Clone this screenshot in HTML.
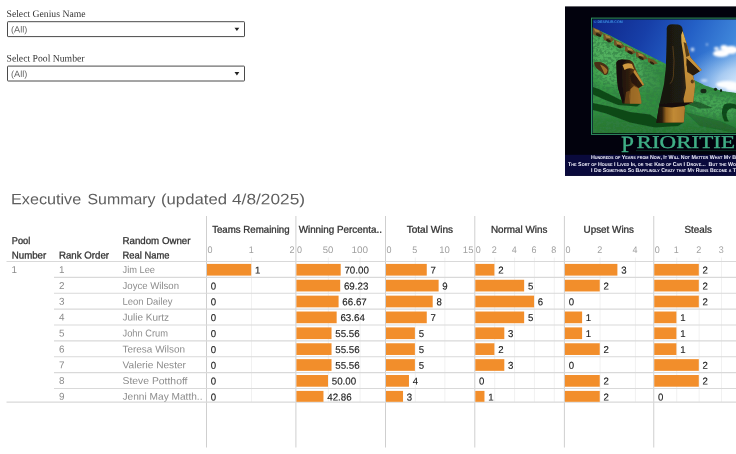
<!DOCTYPE html>
<html><head><meta charset="utf-8"><title>Executive Summary</title>
<style>
html,body{margin:0;padding:0;background:#fff;}
body{width:736px;height:454px;overflow:hidden;position:relative;font-family:"Liberation Sans",sans-serif;}
.abs{position:absolute;white-space:nowrap;}
svg text{white-space:pre;text-rendering:geometricPrecision;}
</style></head><body>

<svg class="abs" style="left:0;top:0" width="736" height="454" viewBox="0 0 736 454">
<defs>
<linearGradient id="sky" gradientUnits="userSpaceOnUse" x1="596" y1="20" x2="745" y2="92">
<stop offset="0" stop-color="#0f278a"/><stop offset="0.3" stop-color="#173fa8"/><stop offset="0.55" stop-color="#2460c6"/><stop offset="0.8" stop-color="#3f86da"/><stop offset="1" stop-color="#8dbff0"/>
</linearGradient>
<linearGradient id="grass" x1="0" y1="0" x2="0.25" y2="1">
<stop offset="0" stop-color="#4cae5a"/><stop offset="0.45" stop-color="#379846"/><stop offset="1" stop-color="#2a8237"/>
</linearGradient>
<linearGradient id="face" x1="0" y1="0" x2="1" y2="0">
<stop offset="0" stop-color="#121410"/><stop offset="0.55" stop-color="#1f1c12"/><stop offset="0.75" stop-color="#3a2a12"/><stop offset="1" stop-color="#6a481a"/>
</linearGradient>
<linearGradient id="gold" x1="0" y1="0" x2="0" y2="1">
<stop offset="0" stop-color="#e2b453"/><stop offset="0.35" stop-color="#c9943c"/><stop offset="1" stop-color="#b98434"/>
</linearGradient>
<linearGradient id="base" x1="0" y1="0" x2="1" y2="0">
<stop offset="0" stop-color="#17120a"/><stop offset="0.2" stop-color="#2a1c0c"/><stop offset="0.34" stop-color="#94621f"/><stop offset="0.6" stop-color="#c18a36"/><stop offset="1" stop-color="#b07a2e"/>
</linearGradient>
<linearGradient id="sface" x1="0" y1="0" x2="1" y2="0">
<stop offset="0" stop-color="#1a1008"/><stop offset="0.45" stop-color="#2e1c0c"/><stop offset="0.75" stop-color="#6e4418"/><stop offset="1" stop-color="#9a6824"/>
</linearGradient>
<radialGradient id="haze" gradientUnits="userSpaceOnUse" cx="748" cy="86" r="70" gradientTransform="translate(748 86) scale(1 0.62) translate(-748 -86)">
<stop offset="0" stop-color="#eef6ff" stop-opacity="0.95"/><stop offset="0.45" stop-color="#cfe4fa" stop-opacity="0.7"/><stop offset="1" stop-color="#9cc6f0" stop-opacity="0"/>
</radialGradient>
<filter id="b1" x="-10%" y="-10%" width="120%" height="120%"><feGaussianBlur stdDeviation="0.55"/></filter>
<filter id="b2" x="-50%" y="-50%" width="200%" height="200%"><feGaussianBlur stdDeviation="1.1"/></filter>
<filter id="b3" x="-50%" y="-50%" width="200%" height="200%"><feGaussianBlur stdDeviation="3"/></filter>
<filter id="noise" x="0" y="0" width="100%" height="100%">
<feTurbulence type="fractalNoise" baseFrequency="0.3 0.4" numOctaves="3" seed="7"/>
<feColorMatrix type="matrix" values="0 0 0 0 0.03  0 0 0 0 0.2  0 0 0 0 0.06  0 0 0 -5 2.9"/>
<feGaussianBlur stdDeviation="0.3"/>
</filter>
<clipPath id="ph"><rect x="592.75" y="19.5" width="160" height="113.6"/></clipPath>
<clipPath id="hill"><path d="M592,27.2 L610,35.5 L630,46 L652,57 L667,64.5 L694,80 L705,85.5 L722,91 L736,93 L745,93 L745,140 L592,140 Z"/></clipPath>
</defs>
<rect x="565" y="6.4" width="180" height="169.4" fill="#02020d"/>
<rect x="565" y="154.8" width="180" height="21" fill="#0a0a3c"/>
<rect x="591.5" y="18.1" width="160" height="116.3" fill="#03130c" stroke="#2f8f63" stroke-width="1"/>
<g clip-path="url(#ph)">
<rect x="592" y="19" width="150" height="115" fill="url(#sky)"/>
<rect x="592" y="19" width="150" height="115" fill="url(#haze)"/>
<!-- clouds -->
<g filter="url(#b2)" fill="#fff">
<ellipse cx="721" cy="53.5" rx="8" ry="3.6"/>
<ellipse cx="731" cy="50" rx="7" ry="4"/>
<ellipse cx="724" cy="47.5" rx="3.6" ry="2.6"/>
<ellipse cx="716.5" cy="48.5" rx="2.6" ry="1.8" opacity="0.85"/>
<ellipse cx="692.5" cy="49.5" rx="1.8" ry="2" opacity="0.75"/>
<ellipse cx="707" cy="44.5" rx="1.1" ry="0.9" opacity="0.7"/>
<ellipse cx="727" cy="84.5" rx="11" ry="3.4" opacity="0.95"/>
<ellipse cx="734" cy="88.5" rx="8" ry="2.6" opacity="0.9"/>
<ellipse cx="704" cy="80.5" rx="3.4" ry="1.6" opacity="0.55"/>
</g>
<!-- hill -->
<g filter="url(#b1)">
<path d="M592,27.2 L610,35.5 L630,46 L652,57 L667,64.5 L694,80 L705,85.5 L722,91 L736,93 L745,93 L745,140 L592,140 Z" fill="url(#grass)"/>
<g clip-path="url(#hill)">
<g filter="url(#b3)">
<path d="M592,36 L655,68 L662,92 L600,82 Z" fill="#62c06e" opacity="0.5"/>
<path d="M690,92 L736,98 L736,120 L690,112 Z" fill="#58b864" opacity="0.55"/>
<path d="M592,116 L745,128 L745,140 L592,140 Z" fill="#246f2f" opacity="0.6"/>
<path d="M640,60 L668,72 L664,100 L645,95 Z" fill="#2a7a36" opacity="0.45"/>
</g>
<rect x="592" y="19" width="150" height="116" filter="url(#noise)" opacity="0.6"/>
</g>
<!-- rocks along ridge -->
<g filter="url(#b1)">
<g fill="#6e5226">
<path d="M593,27.5 L599,30 L603,33 L601,36.5 L595,35.5 L593,34 Z"/>
<path d="M603,33.5 L610,36 L614,39.5 L611,42.5 L604,40 Z"/>
<path d="M614,39.5 L621,42.5 L625,46.5 L621,48.5 L614,45 Z"/>
<path d="M625,45.5 L632,48.5 L636,52.5 L632,54.5 L625,51 Z"/>
<path d="M636,51.5 L643,54 L648,58.5 L643,60 L636,56.5 Z"/>
<path d="M648,57.5 L654,60 L658,63.5 L653,64.5 L648,62 Z"/>
</g>
<g fill="#a8843c">
<path d="M594,28.5 L599,30.5 L600,32.5 L595,31.5 Z"/>
<path d="M605,34.5 L610,36.5 L611,38.5 L606,37.5 Z"/>
<path d="M616,41 L621,43 L622,45 L617,44 Z"/>
<path d="M627,47 L632,49 L633,51 L628,50 Z"/>
<path d="M638,52.8 L643,54.8 L644,56.8 L639,55.8 Z"/>
</g>
<g fill="#1c140a" opacity="0.8">
<ellipse cx="598.5" cy="35" rx="3" ry="1.5" transform="rotate(27 598.5 35)"/>
<ellipse cx="608.5" cy="40.8" rx="2.6" ry="1.4" transform="rotate(27 608.5 40.8)"/>
<ellipse cx="619" cy="46.5" rx="2.6" ry="1.3" transform="rotate(27 619 46.5)"/>
<ellipse cx="630" cy="52.5" rx="3" ry="1.3" transform="rotate(27 630 52.5)"/>
<ellipse cx="641" cy="58" rx="3" ry="1.3" transform="rotate(27 641 58)"/>
<ellipse cx="652" cy="63" rx="2.6" ry="1.1" transform="rotate(27 652 63)"/>
</g>
</g>
<!-- shadows on grass -->
<g filter="url(#b1)" fill="#114419" opacity="0.92">
<path d="M593,87 L600,89.5 L612,95.5 L622,100.5 L641,103.5 L637,106.5 L618,105 L604,99.5 L593,94.5 Z"/>
<path d="M593,103 L610,106.5 L630,112 L650,114.5 L660,121 L684,122.5 L678,126 L655,127.5 L630,122.5 L606,113.5 L593,110 Z"/>
<path d="M724,104.5 Q731,102 737,105 L737,109.5 Q730,106.5 727.5,111 Q725,116 729,121.5 L724.5,121.5 Q719.5,113 724,104.5 Z"/>
<path d="M686,99 L700,102.5 L713,108 L700,108.5 L686,104 Z" opacity="0.7"/>
<path d="M685,112 L720,121 L736,128 L736,133 L700,126 Z" opacity="0.35"/>
</g>
<!-- distant small figures on ridge -->
<g fill="#132c17">
<ellipse cx="703.5" cy="91" rx="3" ry="2.3"/>
<ellipse cx="715.5" cy="89.3" rx="1.6" ry="1.6"/>
<ellipse cx="721" cy="90.5" rx="1.1" ry="1.5"/>
</g>
<!-- fallen small moai -->
<path d="M594,62.5 Q599,60.5 604,63.5 Q609,66 608.5,71 Q608,75.5 604.5,75 Q602,72 598,69.5 Q594.5,67 594,62.5 Z" fill="#4a2e12"/>
<path d="M600,64.5 Q605,66 607.5,70 Q607,74 604.5,74 Q603,70 600,64.5 Z" fill="#a06e2c"/>
<!-- small moai -->
<path d="M616.3,63 Q616.8,59.5 622,59.4 L629,59.7 Q633.5,61 634.5,66 L637,72 L644,85 L638.5,88.5 L640,94 L641.3,101.5 L641.2,103.8 L622.5,103.6 L620.5,96 L618,88 L616.8,76 Z" fill="url(#sface)"/>
<path d="M616.5,62 Q618,59.4 622,59.5 L627,60 Q622.5,62 622,68 L622.5,86 L624.5,99 L623,103.6 L620.5,96 L618,88 L616.8,76 Z" fill="#170f08" opacity="0.9"/>
<path d="M622.5,65 Q627,62 632,64 L634.2,69.5 Q629,67 624.5,70 Z" fill="#cf9a40"/>
<path d="M633,72.5 L643.6,85 L638.5,88 L631.5,82.5 L630,76 Z" fill="#23150a" opacity="0.9"/>
<path d="M634.8,69.5 L644,84.6 L642.6,85.6 L633.4,72 Z" fill="#c08a36"/>
<path d="M634,86 L638.5,88.5 L640,94 L641.3,101.5 L641.2,103.8 L630,103.7 L629,96 L630.5,89 Z" fill="#a9762c" opacity="0.85"/>
<path d="M626,92 L631,90 L630,103.7 L624.5,103.6 Z" fill="#7a4e1c" opacity="0.7"/>
<!-- big moai -->
<path d="M666.8,28 Q667.3,24.2 672,24.2 L678,24.4 Q681.5,24.9 682.3,28 L683.5,34 L686,41.5 L690.5,57.5 L701.7,70 L693,75.6 L695.2,84.5 L694,95 L693.2,102.5 L684,105.6 L685,108 L683.8,122.5 L656.3,122.7 L659.5,104 L664,84 L665.8,68 L666.5,45 Z" fill="url(#face)"/>
<!-- golden face plane -->
<path d="M682.6,31 L683.6,34 L686,41.5 L690.5,57.5 L701.7,70 L699.5,71.5 L688.5,60.5 L686.8,66 L687.2,72 L693,75.6 L695.2,84.5 L694,95 L693.2,102.5 L684.5,105.4 L683.5,99 L686,88 L685,76 L684.2,66 L683.5,56 L681.4,42 L681.2,35 Z" fill="url(#gold)"/>
<!-- nose side / eye socket shadow -->
<path d="M686.5,58 L699.8,71.2 L693,75.4 L688.4,71 L686.4,65 Z" fill="#2a1c0c"/>
<path d="M683.6,42 L686.5,43.5 L689.5,55.5 L686.2,57 Z" fill="#4a3214" opacity="0.9"/>
<ellipse cx="692.3" cy="81.5" rx="1.6" ry="1.9" fill="#4a3012" opacity="0.85"/>
<!-- ear -->
<path d="M672.8,46 Q675,60 673.4,76 Q672,83 669.8,83.5" fill="none" stroke="#5a4018" stroke-width="1" opacity="0.85"/>
<!-- base -->
<path d="M659.3,105 L684,105.6 L685,108 L683.8,122.5 L656.3,122.7 Z" fill="url(#base)"/>
<path d="M659.5,103.6 L693.2,102.3 L684,105.9 L672,107.6 L659.1,106.6 Z" fill="#12110b"/>
</g>
</g>
<text x="593.8" y="23" font-family="'Liberation Sans',sans-serif" font-size="3.6" font-weight="bold" fill="#3b8fe0" textLength="29" lengthAdjust="spacingAndGlyphs">© DESPAIR.COM</text>
<g font-family="'Liberation Serif',serif" fill="#3fae85" stroke="#3fae85" stroke-width="0.35">
<text x="621" y="151.8" font-size="23.3">P</text>
<text x="636.6" y="148.1" font-size="18" textLength="98.4" lengthAdjust="spacingAndGlyphs">RIORITIE</text>
<text x="737" y="151.8" font-size="23.3">S</text>
</g>
<line x1="636" y1="150.6" x2="736" y2="150.6" stroke="#0f3f2d" stroke-width="0.7"/>
<g font-family="'Liberation Sans',sans-serif" font-weight="bold" font-size="5.6" fill="#f4f4ff" style="font-variant:small-caps">
<text x="591" y="159.1" textLength="145" lengthAdjust="spacingAndGlyphs">Hundreds of Years from Now, It Will Not Matter What My B</text>
<text x="568.1" y="165.6" textLength="168" lengthAdjust="spacingAndGlyphs">The Sort of House I Lived In, or the Kind of Car I Drove...  But the Wo</text>
<text x="591" y="172" textLength="145" lengthAdjust="spacingAndGlyphs">I Did Something So Bafflingly Crazy that My Ruins Become a T</text>
</g>
</svg>

<svg class="abs" style="left:0;top:0" width="736" height="454" viewBox="0 0 736 454" font-family="'Liberation Sans',sans-serif">
<g font-family="'Liberation Serif',serif" font-size="10" fill="#333">
<text x="6.5" y="16.9" transform="rotate(0.03 6.5 16.9)" textLength="79" lengthAdjust="spacingAndGlyphs">Select Genius Name</text>
<text x="6.5" y="61.4" transform="rotate(0.03 6.5 61.4)" textLength="78" lengthAdjust="spacingAndGlyphs">Select Pool Number</text>
</g>
<rect x="7.5" y="21.7" width="237" height="14.9" rx="0.6" fill="#fff" stroke="#4a4a4a" stroke-width="1"/>
<text x="11" y="32.5" transform="rotate(0.03 11 32.5)" font-size="9" fill="#666" textLength="16.25" lengthAdjust="spacingAndGlyphs">(All)</text>
<path d="M234.5,27.7 h4.8 l-2.4,3.3 z" fill="#222"/>
<rect x="7.5" y="66.1" width="237" height="14.9" rx="0.6" fill="#fff" stroke="#4a4a4a" stroke-width="1"/>
<text x="11" y="76.9" transform="rotate(0.03 11 76.9)" font-size="9" fill="#666" textLength="16.25" lengthAdjust="spacingAndGlyphs">(All)</text>
<path d="M234.5,72.1 h4.8 l-2.4,3.3 z" fill="#222"/>
<g font-size="15" fill="#5e5e5e">
<text x="11" y="204.25" transform="rotate(0.03 11 204.25)" textLength="70.25" lengthAdjust="spacingAndGlyphs">Executive</text>
<text x="87.5" y="204.25" transform="rotate(0.03 87.5 204.25)" textLength="68" lengthAdjust="spacingAndGlyphs">Summary</text>
<text x="161" y="204.25" transform="rotate(0.03 161 204.25)" textLength="66" lengthAdjust="spacingAndGlyphs">(updated</text>
<text x="232" y="204.25" transform="rotate(0.03 232 204.25)" textLength="73" lengthAdjust="spacingAndGlyphs">4/8/2025)</text>
</g>
<g stroke="#cfcfcf" stroke-width="1">
<line x1="206.5" y1="216" x2="206.5" y2="447.5"/>
<line x1="295.9" y1="216" x2="295.9" y2="447.5"/>
<line x1="385.5" y1="216" x2="385.5" y2="447.5"/>
<line x1="474.8" y1="216" x2="474.8" y2="447.5"/>
<line x1="564.4" y1="216" x2="564.4" y2="447.5"/>
<line x1="653.75" y1="216" x2="653.75" y2="447.5"/>
</g>
<g stroke="#f1f1f1" stroke-width="1">
<line x1="251.55" y1="257.5" x2="251.55" y2="402.1"/>
<line x1="328.35" y1="257.5" x2="328.35" y2="402.1"/>
<line x1="360.10" y1="257.5" x2="360.10" y2="402.1"/>
<line x1="415.25" y1="257.5" x2="415.25" y2="402.1"/>
<line x1="444.90" y1="257.5" x2="444.90" y2="402.1"/>
<line x1="494.74" y1="257.5" x2="494.74" y2="402.1"/>
<line x1="514.58" y1="257.5" x2="514.58" y2="402.1"/>
<line x1="534.42" y1="257.5" x2="534.42" y2="402.1"/>
<line x1="554.26" y1="257.5" x2="554.26" y2="402.1"/>
<line x1="600.10" y1="257.5" x2="600.10" y2="402.1"/>
<line x1="635.40" y1="257.5" x2="635.40" y2="402.1"/>
<line x1="676.75" y1="257.5" x2="676.75" y2="402.1"/>
<line x1="699.15" y1="257.5" x2="699.15" y2="402.1"/>
<line x1="721.55" y1="257.5" x2="721.55" y2="402.1"/>
</g>
<g stroke="#d9d9d9" stroke-width="1.2">
<line x1="6.5" y1="261.5" x2="736" y2="261.5"/>
<line x1="54" y1="277.38" x2="736" y2="277.38"/>
<line x1="54" y1="293.25" x2="736" y2="293.25"/>
<line x1="54" y1="309.12" x2="736" y2="309.12"/>
<line x1="54" y1="325.00" x2="736" y2="325.00"/>
<line x1="54" y1="340.88" x2="736" y2="340.88"/>
<line x1="54" y1="356.75" x2="736" y2="356.75"/>
<line x1="54" y1="372.62" x2="736" y2="372.62"/>
<line x1="54" y1="388.50" x2="736" y2="388.50"/>
<line x1="6.5" y1="402.1" x2="736" y2="402.1"/>
</g>
<g font-size="9.9" fill="#333" stroke="#333" stroke-width="0.3">
<text x="11.75" y="244" transform="rotate(0.03 11.75 244)" textLength="18.5" lengthAdjust="spacingAndGlyphs">Pool</text>
<text x="11.75" y="258.4" transform="rotate(0.03 11.75 258.4)" textLength="34.5" lengthAdjust="spacingAndGlyphs">Number</text>
<text x="59" y="258.4" transform="rotate(0.03 59 258.4)" textLength="50" lengthAdjust="spacingAndGlyphs">Rank Order</text>
<text x="122.5" y="244" transform="rotate(0.03 122.5 244)" textLength="68" lengthAdjust="spacingAndGlyphs">Random Owner</text>
<text x="122.5" y="258.4" transform="rotate(0.03 122.5 258.4)" textLength="47" lengthAdjust="spacingAndGlyphs">Real Name</text>
<text x="212.15" y="232.75" transform="rotate(0.03 212.15 232.75)" textLength="77.5" lengthAdjust="spacingAndGlyphs">Teams Remaining</text>
<text x="298.67" y="232.75" transform="rotate(0.03 298.67 232.75)" textLength="83.25" lengthAdjust="spacingAndGlyphs">Winning Percenta..</text>
<text x="406.65" y="232.75" transform="rotate(0.03 406.65 232.75)" textLength="46.5" lengthAdjust="spacingAndGlyphs">Total Wins</text>
<text x="490.95" y="232.75" transform="rotate(0.03 490.95 232.75)" textLength="56.5" lengthAdjust="spacingAndGlyphs">Normal Wins</text>
<text x="583.55" y="232.75" transform="rotate(0.03 583.55 232.75)" textLength="50.5" lengthAdjust="spacingAndGlyphs">Upset Wins</text>
<text x="684.40" y="232.75" transform="rotate(0.03 684.40 232.75)" textLength="27.5" lengthAdjust="spacingAndGlyphs">Steals</text>
</g>
<g font-size="9.5" fill="#a0a0a0">
<text x="207.50" y="252.9" transform="rotate(0.03 207.50 252.9)" textLength="5.00" lengthAdjust="spacingAndGlyphs">0</text>
<text x="248.65" y="252.9" transform="rotate(0.03 248.65 252.9)" textLength="5.00" lengthAdjust="spacingAndGlyphs">1</text>
<text x="289.45" y="252.9" transform="rotate(0.03 289.45 252.9)" textLength="5.00" lengthAdjust="spacingAndGlyphs">2</text>
<text x="296.90" y="252.9" transform="rotate(0.03 296.90 252.9)" textLength="5.00" lengthAdjust="spacingAndGlyphs">0</text>
<text x="322.65" y="252.9" transform="rotate(0.03 322.65 252.9)" textLength="10.60" lengthAdjust="spacingAndGlyphs">50</text>
<text x="351.40" y="252.9" transform="rotate(0.03 351.40 252.9)" textLength="16.60" lengthAdjust="spacingAndGlyphs">100</text>
<text x="386.50" y="252.9" transform="rotate(0.03 386.50 252.9)" textLength="5.00" lengthAdjust="spacingAndGlyphs">0</text>
<text x="412.35" y="252.9" transform="rotate(0.03 412.35 252.9)" textLength="5.00" lengthAdjust="spacingAndGlyphs">5</text>
<text x="439.20" y="252.9" transform="rotate(0.03 439.20 252.9)" textLength="10.60" lengthAdjust="spacingAndGlyphs">10</text>
<text x="462.85" y="252.9" transform="rotate(0.03 462.85 252.9)" textLength="10.60" lengthAdjust="spacingAndGlyphs">15</text>
<text x="475.80" y="252.9" transform="rotate(0.03 475.80 252.9)" textLength="5.00" lengthAdjust="spacingAndGlyphs">0</text>
<text x="491.84" y="252.9" transform="rotate(0.03 491.84 252.9)" textLength="5.00" lengthAdjust="spacingAndGlyphs">2</text>
<text x="511.68" y="252.9" transform="rotate(0.03 511.68 252.9)" textLength="5.00" lengthAdjust="spacingAndGlyphs">4</text>
<text x="531.52" y="252.9" transform="rotate(0.03 531.52 252.9)" textLength="5.00" lengthAdjust="spacingAndGlyphs">6</text>
<text x="551.36" y="252.9" transform="rotate(0.03 551.36 252.9)" textLength="5.00" lengthAdjust="spacingAndGlyphs">8</text>
<text x="565.40" y="252.9" transform="rotate(0.03 565.40 252.9)" textLength="5.00" lengthAdjust="spacingAndGlyphs">0</text>
<text x="597.20" y="252.9" transform="rotate(0.03 597.20 252.9)" textLength="5.00" lengthAdjust="spacingAndGlyphs">2</text>
<text x="632.50" y="252.9" transform="rotate(0.03 632.50 252.9)" textLength="5.00" lengthAdjust="spacingAndGlyphs">4</text>
<text x="654.75" y="252.9" transform="rotate(0.03 654.75 252.9)" textLength="5.00" lengthAdjust="spacingAndGlyphs">0</text>
<text x="673.85" y="252.9" transform="rotate(0.03 673.85 252.9)" textLength="5.00" lengthAdjust="spacingAndGlyphs">1</text>
<text x="696.25" y="252.9" transform="rotate(0.03 696.25 252.9)" textLength="5.00" lengthAdjust="spacingAndGlyphs">2</text>
<text x="718.65" y="252.9" transform="rotate(0.03 718.65 252.9)" textLength="5.00" lengthAdjust="spacingAndGlyphs">3</text>
</g>
<g font-size="9.9" fill="#8c8c8c">
<text x="11.5" y="273.00" transform="rotate(0.03 11.5 273.00)">1</text>
<text x="59" y="273.00" transform="rotate(0.03 59 273.00)">1</text>
<text x="122.5" y="273.00" transform="rotate(0.03 122.5 273.00)" textLength="32.5" lengthAdjust="spacingAndGlyphs">Jim Lee</text>
<text x="59" y="288.88" transform="rotate(0.03 59 288.88)">2</text>
<text x="122.5" y="288.88" transform="rotate(0.03 122.5 288.88)" textLength="56.5" lengthAdjust="spacingAndGlyphs">Joyce Wilson</text>
<text x="59" y="304.75" transform="rotate(0.03 59 304.75)">3</text>
<text x="122.5" y="304.75" transform="rotate(0.03 122.5 304.75)" textLength="50" lengthAdjust="spacingAndGlyphs">Leon Dailey</text>
<text x="59" y="320.62" transform="rotate(0.03 59 320.62)">4</text>
<text x="122.5" y="320.62" transform="rotate(0.03 122.5 320.62)" textLength="46.5" lengthAdjust="spacingAndGlyphs">Julie Kurtz</text>
<text x="59" y="336.50" transform="rotate(0.03 59 336.50)">5</text>
<text x="122.5" y="336.50" transform="rotate(0.03 122.5 336.50)" textLength="45.5" lengthAdjust="spacingAndGlyphs">John Crum</text>
<text x="59" y="352.38" transform="rotate(0.03 59 352.38)">6</text>
<text x="122.5" y="352.38" transform="rotate(0.03 122.5 352.38)" textLength="62.5" lengthAdjust="spacingAndGlyphs">Teresa Wilson</text>
<text x="59" y="368.25" transform="rotate(0.03 59 368.25)">7</text>
<text x="122.5" y="368.25" transform="rotate(0.03 122.5 368.25)" textLength="63.5" lengthAdjust="spacingAndGlyphs">Valerie Nester</text>
<text x="59" y="384.12" transform="rotate(0.03 59 384.12)">8</text>
<text x="122.5" y="384.12" transform="rotate(0.03 122.5 384.12)" textLength="65" lengthAdjust="spacingAndGlyphs">Steve Potthoff</text>
<text x="59" y="399.70" transform="rotate(0.03 59 399.70)">9</text>
<text x="122.5" y="399.70" transform="rotate(0.03 122.5 399.70)" textLength="80" lengthAdjust="spacingAndGlyphs">Jenni May Matth..</text>
</g>
<g fill="#f28e2b">
<rect x="207.00" y="263.90" width="44.20" height="11.70"/>
<rect x="296.40" y="263.90" width="44.30" height="11.70"/>
<rect x="386.00" y="263.90" width="40.76" height="11.70"/>
<rect x="475.30" y="263.90" width="19.09" height="11.70"/>
<rect x="564.90" y="263.90" width="52.50" height="11.70"/>
<rect x="654.25" y="263.90" width="44.55" height="11.70"/>
<rect x="296.40" y="279.77" width="43.81" height="11.70"/>
<rect x="386.00" y="279.77" width="52.62" height="11.70"/>
<rect x="475.30" y="279.77" width="48.85" height="11.70"/>
<rect x="564.90" y="279.77" width="34.85" height="11.70"/>
<rect x="654.25" y="279.77" width="44.55" height="11.70"/>
<rect x="296.40" y="295.65" width="42.19" height="11.70"/>
<rect x="386.00" y="295.65" width="46.69" height="11.70"/>
<rect x="475.30" y="295.65" width="58.77" height="11.70"/>
<rect x="654.25" y="295.65" width="44.55" height="11.70"/>
<rect x="296.40" y="311.52" width="40.26" height="11.70"/>
<rect x="386.00" y="311.52" width="40.76" height="11.70"/>
<rect x="475.30" y="311.52" width="48.85" height="11.70"/>
<rect x="564.90" y="311.52" width="17.20" height="11.70"/>
<rect x="654.25" y="311.52" width="22.15" height="11.70"/>
<rect x="296.40" y="327.40" width="35.13" height="11.70"/>
<rect x="386.00" y="327.40" width="28.90" height="11.70"/>
<rect x="475.30" y="327.40" width="29.01" height="11.70"/>
<rect x="564.90" y="327.40" width="17.20" height="11.70"/>
<rect x="654.25" y="327.40" width="22.15" height="11.70"/>
<rect x="296.40" y="343.27" width="35.13" height="11.70"/>
<rect x="386.00" y="343.27" width="28.90" height="11.70"/>
<rect x="475.30" y="343.27" width="19.09" height="11.70"/>
<rect x="564.90" y="343.27" width="34.85" height="11.70"/>
<rect x="654.25" y="343.27" width="22.15" height="11.70"/>
<rect x="296.40" y="359.15" width="35.13" height="11.70"/>
<rect x="386.00" y="359.15" width="28.90" height="11.70"/>
<rect x="475.30" y="359.15" width="29.01" height="11.70"/>
<rect x="654.25" y="359.15" width="44.55" height="11.70"/>
<rect x="296.40" y="375.02" width="31.60" height="11.70"/>
<rect x="386.00" y="375.02" width="22.97" height="11.70"/>
<rect x="564.90" y="375.02" width="34.85" height="11.70"/>
<rect x="654.25" y="375.02" width="44.55" height="11.70"/>
<rect x="296.40" y="390.90" width="27.07" height="10.90"/>
<rect x="386.00" y="390.90" width="17.04" height="10.90"/>
<rect x="475.30" y="390.90" width="9.17" height="10.90"/>
<rect x="564.90" y="390.90" width="34.85" height="10.90"/>
</g>
<g font-size="9.9" fill="#1f1f1f" stroke="#1f1f1f" stroke-width="0.15">
<text x="254.95" y="273.50" transform="rotate(0.03 254.95 273.50)" textLength="5.35" lengthAdjust="spacingAndGlyphs">1</text>
<text x="344.45" y="273.50" transform="rotate(0.03 344.45 273.50)" textLength="24.4" lengthAdjust="spacingAndGlyphs">70.00</text>
<text x="430.51" y="273.50" transform="rotate(0.03 430.51 273.50)" textLength="5.35" lengthAdjust="spacingAndGlyphs">7</text>
<text x="498.14" y="273.50" transform="rotate(0.03 498.14 273.50)" textLength="5.35" lengthAdjust="spacingAndGlyphs">2</text>
<text x="621.15" y="273.50" transform="rotate(0.03 621.15 273.50)" textLength="5.35" lengthAdjust="spacingAndGlyphs">3</text>
<text x="702.55" y="273.50" transform="rotate(0.03 702.55 273.50)" textLength="5.35" lengthAdjust="spacingAndGlyphs">2</text>
<text x="210.75" y="289.38" transform="rotate(0.03 210.75 289.38)" textLength="5.35" lengthAdjust="spacingAndGlyphs">0</text>
<text x="343.96" y="289.38" transform="rotate(0.03 343.96 289.38)" textLength="24.4" lengthAdjust="spacingAndGlyphs">69.23</text>
<text x="442.37" y="289.38" transform="rotate(0.03 442.37 289.38)" textLength="5.35" lengthAdjust="spacingAndGlyphs">9</text>
<text x="527.90" y="289.38" transform="rotate(0.03 527.90 289.38)" textLength="5.35" lengthAdjust="spacingAndGlyphs">5</text>
<text x="603.50" y="289.38" transform="rotate(0.03 603.50 289.38)" textLength="5.35" lengthAdjust="spacingAndGlyphs">2</text>
<text x="702.55" y="289.38" transform="rotate(0.03 702.55 289.38)" textLength="5.35" lengthAdjust="spacingAndGlyphs">2</text>
<text x="210.75" y="305.25" transform="rotate(0.03 210.75 305.25)" textLength="5.35" lengthAdjust="spacingAndGlyphs">0</text>
<text x="342.34" y="305.25" transform="rotate(0.03 342.34 305.25)" textLength="24.4" lengthAdjust="spacingAndGlyphs">66.67</text>
<text x="436.44" y="305.25" transform="rotate(0.03 436.44 305.25)" textLength="5.35" lengthAdjust="spacingAndGlyphs">8</text>
<text x="537.82" y="305.25" transform="rotate(0.03 537.82 305.25)" textLength="5.35" lengthAdjust="spacingAndGlyphs">6</text>
<text x="568.65" y="305.25" transform="rotate(0.03 568.65 305.25)" textLength="5.35" lengthAdjust="spacingAndGlyphs">0</text>
<text x="702.55" y="305.25" transform="rotate(0.03 702.55 305.25)" textLength="5.35" lengthAdjust="spacingAndGlyphs">2</text>
<text x="210.75" y="321.12" transform="rotate(0.03 210.75 321.12)" textLength="5.35" lengthAdjust="spacingAndGlyphs">0</text>
<text x="340.41" y="321.12" transform="rotate(0.03 340.41 321.12)" textLength="24.4" lengthAdjust="spacingAndGlyphs">63.64</text>
<text x="430.51" y="321.12" transform="rotate(0.03 430.51 321.12)" textLength="5.35" lengthAdjust="spacingAndGlyphs">7</text>
<text x="527.90" y="321.12" transform="rotate(0.03 527.90 321.12)" textLength="5.35" lengthAdjust="spacingAndGlyphs">5</text>
<text x="585.85" y="321.12" transform="rotate(0.03 585.85 321.12)" textLength="5.35" lengthAdjust="spacingAndGlyphs">1</text>
<text x="680.15" y="321.12" transform="rotate(0.03 680.15 321.12)" textLength="5.35" lengthAdjust="spacingAndGlyphs">1</text>
<text x="210.75" y="337.00" transform="rotate(0.03 210.75 337.00)" textLength="5.35" lengthAdjust="spacingAndGlyphs">0</text>
<text x="335.28" y="337.00" transform="rotate(0.03 335.28 337.00)" textLength="24.4" lengthAdjust="spacingAndGlyphs">55.56</text>
<text x="418.65" y="337.00" transform="rotate(0.03 418.65 337.00)" textLength="5.35" lengthAdjust="spacingAndGlyphs">5</text>
<text x="508.06" y="337.00" transform="rotate(0.03 508.06 337.00)" textLength="5.35" lengthAdjust="spacingAndGlyphs">3</text>
<text x="585.85" y="337.00" transform="rotate(0.03 585.85 337.00)" textLength="5.35" lengthAdjust="spacingAndGlyphs">1</text>
<text x="680.15" y="337.00" transform="rotate(0.03 680.15 337.00)" textLength="5.35" lengthAdjust="spacingAndGlyphs">1</text>
<text x="210.75" y="352.88" transform="rotate(0.03 210.75 352.88)" textLength="5.35" lengthAdjust="spacingAndGlyphs">0</text>
<text x="335.28" y="352.88" transform="rotate(0.03 335.28 352.88)" textLength="24.4" lengthAdjust="spacingAndGlyphs">55.56</text>
<text x="418.65" y="352.88" transform="rotate(0.03 418.65 352.88)" textLength="5.35" lengthAdjust="spacingAndGlyphs">5</text>
<text x="498.14" y="352.88" transform="rotate(0.03 498.14 352.88)" textLength="5.35" lengthAdjust="spacingAndGlyphs">2</text>
<text x="603.50" y="352.88" transform="rotate(0.03 603.50 352.88)" textLength="5.35" lengthAdjust="spacingAndGlyphs">2</text>
<text x="680.15" y="352.88" transform="rotate(0.03 680.15 352.88)" textLength="5.35" lengthAdjust="spacingAndGlyphs">1</text>
<text x="210.75" y="368.75" transform="rotate(0.03 210.75 368.75)" textLength="5.35" lengthAdjust="spacingAndGlyphs">0</text>
<text x="335.28" y="368.75" transform="rotate(0.03 335.28 368.75)" textLength="24.4" lengthAdjust="spacingAndGlyphs">55.56</text>
<text x="418.65" y="368.75" transform="rotate(0.03 418.65 368.75)" textLength="5.35" lengthAdjust="spacingAndGlyphs">5</text>
<text x="508.06" y="368.75" transform="rotate(0.03 508.06 368.75)" textLength="5.35" lengthAdjust="spacingAndGlyphs">3</text>
<text x="568.65" y="368.75" transform="rotate(0.03 568.65 368.75)" textLength="5.35" lengthAdjust="spacingAndGlyphs">0</text>
<text x="702.55" y="368.75" transform="rotate(0.03 702.55 368.75)" textLength="5.35" lengthAdjust="spacingAndGlyphs">2</text>
<text x="210.75" y="384.62" transform="rotate(0.03 210.75 384.62)" textLength="5.35" lengthAdjust="spacingAndGlyphs">0</text>
<text x="331.75" y="384.62" transform="rotate(0.03 331.75 384.62)" textLength="24.4" lengthAdjust="spacingAndGlyphs">50.00</text>
<text x="412.72" y="384.62" transform="rotate(0.03 412.72 384.62)" textLength="5.35" lengthAdjust="spacingAndGlyphs">4</text>
<text x="479.05" y="384.62" transform="rotate(0.03 479.05 384.62)" textLength="5.35" lengthAdjust="spacingAndGlyphs">0</text>
<text x="603.50" y="384.62" transform="rotate(0.03 603.50 384.62)" textLength="5.35" lengthAdjust="spacingAndGlyphs">2</text>
<text x="702.55" y="384.62" transform="rotate(0.03 702.55 384.62)" textLength="5.35" lengthAdjust="spacingAndGlyphs">2</text>
<text x="210.75" y="400.50" transform="rotate(0.03 210.75 400.50)" textLength="5.35" lengthAdjust="spacingAndGlyphs">0</text>
<text x="327.22" y="400.50" transform="rotate(0.03 327.22 400.50)" textLength="24.4" lengthAdjust="spacingAndGlyphs">42.86</text>
<text x="406.79" y="400.50" transform="rotate(0.03 406.79 400.50)" textLength="5.35" lengthAdjust="spacingAndGlyphs">3</text>
<text x="488.22" y="400.50" transform="rotate(0.03 488.22 400.50)" textLength="5.35" lengthAdjust="spacingAndGlyphs">1</text>
<text x="603.50" y="400.50" transform="rotate(0.03 603.50 400.50)" textLength="5.35" lengthAdjust="spacingAndGlyphs">2</text>
<text x="658.00" y="400.50" transform="rotate(0.03 658.00 400.50)" textLength="5.35" lengthAdjust="spacingAndGlyphs">0</text>
</g>
</svg>
</body></html>
